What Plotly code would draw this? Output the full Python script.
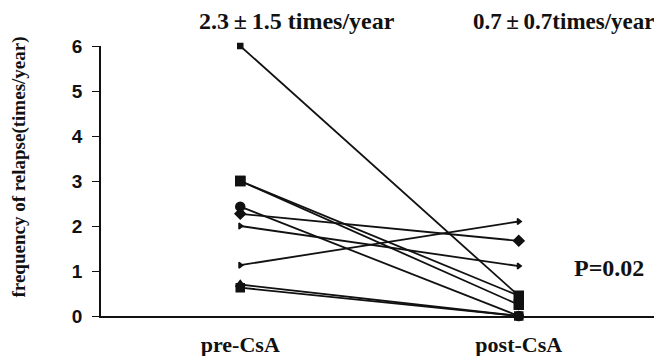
import plotly.graph_objects as go

categories = ["pre-CsA", "post-CsA"]
patients = [
    {"pre": 6.0, "post": 0.45, "symbol": "square", "size": 5},
    {"pre": 3.0, "post": 0.45, "symbol": "square", "size": 9},
    {"pre": 3.0, "post": 0.25, "symbol": "square", "size": 9},
    {"pre": 2.43, "post": 0.0, "symbol": "circle", "size": 9},
    {"pre": 2.27, "post": 1.67, "symbol": "diamond", "size": 8},
    {"pre": 2.0, "post": 1.11, "symbol": "triangle-right", "size": 5},
    {"pre": 1.13, "post": 2.1, "symbol": "triangle-right", "size": 5},
    {"pre": 0.7, "post": 0.0, "symbol": "triangle-up", "size": 8},
    {"pre": 0.63, "post": 0.0, "symbol": "square", "size": 8},
]
pre_summary = "2.3\u2009±\u20091.5 times/year"
post_summary = "0.7\u2009±\u20090.7times/year"
p_text = "P=0.02"
y_title = "frequency of relapse(times/year)"
y_ticks = [0, 1, 2, 3, 4, 5, 6]

fig = go.Figure()
for p in patients:
    fig.add_trace(go.Scatter(
        x=categories, y=[p["pre"], p["post"]], mode="lines+markers",
        line=dict(color="#111", width=1.8),
        marker=dict(symbol=p["symbol"], size=p["size"], color="#111",
                    line=dict(color="#111", width=1.5)),
        showlegend=False, cliponaxis=False))

serif = "Liberation Serif, Times New Roman, serif"
fig.add_annotation(x=0.351, y=1.0, xref="paper", yref="paper", yshift=25,
                   xanchor="center", yanchor="middle",
                   text=pre_summary, showarrow=False,
                   font=dict(family=serif, size=24, color="#111", weight="bold"))
fig.add_annotation(x=0.832, y=1.0, xref="paper", yref="paper", yshift=25,
                   xanchor="center", yanchor="middle",
                   text=post_summary, showarrow=False,
                   font=dict(family=serif, size=23, color="#111", weight="bold"))
fig.add_annotation(x=0.912, y=1.07, xref="paper", yref="y",
                   xanchor="center", yanchor="middle",
                   text=p_text, showarrow=False,
                   font=dict(family=serif, size=24, color="#111", weight="bold"))
fig.add_annotation(x=-0.149, y=0.55, xref="paper", yref="paper",
                   xanchor="center", yanchor="middle",
                   text=y_title, showarrow=False, textangle=-90,
                   font=dict(family=serif, size=19, color="#111", weight="bold"))
fig.add_shape(type="line", xref="paper", yref="paper", x0=1, x1=1, y0=0, y1=0.022,
              line=dict(color="#111", width=1.5))

# page body has an 8px margin, so the figure is 8px smaller and margins compensate
fig.update_layout(
    width=654, height=348,
    margin=dict(l=93, r=4, t=38, b=40, autoexpand=False),
    plot_bgcolor="white", paper_bgcolor="white",
    xaxis=dict(type="category", range=[-0.5, 1.5], showline=True, linecolor="#111",
               linewidth=1.5, ticks="", showgrid=False, zeroline=False,
               automargin=False, ticklabelstandoff=8,
               tickfont=dict(family=serif, size=22, color="#111", weight="bold")),
    yaxis=dict(range=[0, 6], tickvals=y_ticks, showline=True, linecolor="#111",
               linewidth=1.5, ticks="outside", ticklen=7, tickcolor="#111",
               ticklabelstandoff=6, automargin=False,
               showgrid=False, zeroline=False,
               tickfont=dict(family="Liberation Sans, Arial, sans-serif", size=19,
                             color="#111", weight="bold")),
)
fig.write_html("out.html")
